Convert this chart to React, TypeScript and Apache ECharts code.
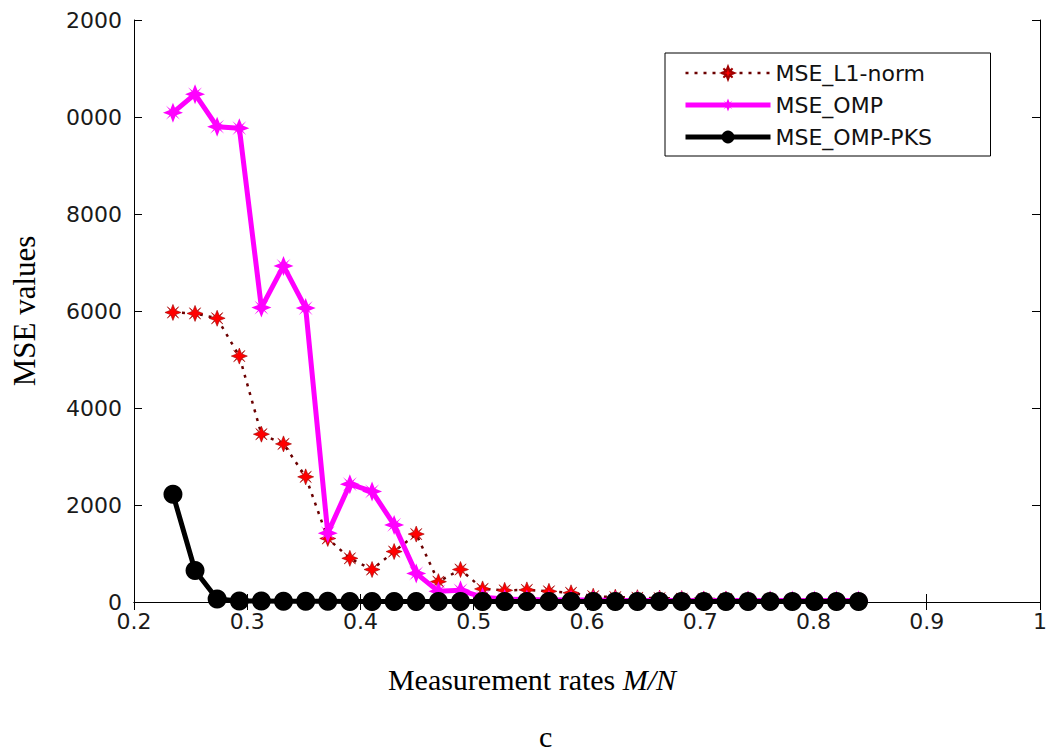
import React, { useEffect, useRef } from "react";
import * as echarts from "echarts";

// Measurement rates M/N (M = 60..215, N = 256)
const rates = [
  0.2344, 0.2539, 0.2734, 0.293, 0.3125, 0.332, 0.3516, 0.3711, 0.3906, 0.4102,
  0.4297, 0.4492, 0.4688, 0.4883, 0.5078, 0.5273, 0.5469, 0.5664, 0.5859, 0.6055,
  0.625, 0.6445, 0.6641, 0.6836, 0.7031, 0.7227, 0.7422, 0.7617, 0.7813, 0.8008,
  0.8203, 0.8398,
];
const mseL1 = [
  5970, 5950, 5850, 5070, 3460, 3260, 2580, 1310, 900, 670,
  1040, 1400, 420, 670, 270, 240, 250, 220, 190, 120,
  100, 90, 80, 70, 60, 60, 50, 50, 40, 40, 40, 30,
];
const mseOMP = [
  10090, 10470, 9800, 9770, 6070, 6930, 6060, 1420, 2430, 2280,
  1590, 590, 220, 240, 100, 60, 50, 40, 40, 40,
  30, 30, 30, 30, 30, 30, 30, 30, 30, 30, 30, 30,
];
const msePKS = [
  2220, 650, 60, 20, 20, 15, 15, 15, 10, 10,
  10, 10, 10, 10, 10, 10, 10, 10, 10, 10,
  10, 10, 10, 10, 10, 10, 10, 10, 10, 10, 10, 10,
];
const seriesNames = ["MSE_L1-norm", "MSE_OMP", "MSE_OMP-PKS"];
const xTickLabels = ["0.2", "0.3", "0.4", "0.5", "0.6", "0.7", "0.8", "0.9", "1"];
const yTickLabels = ["0", "2000", "4000", "6000", "8000", "0000", "2000"];

// chunky asterisk-like blob (MATLAB '*' marker drawn thick)
const starPath =
  "path://M20 10 L13.4 12.6 L17.07 17.07 L12.6 13.4 L10 20 L7.4 13.4 L2.93 17.07 L6.6 12.6 L0 10 L6.6 7.4 L2.93 2.93 L7.4 6.6 L10 0 L12.6 6.6 L17.07 2.93 L13.4 7.4 Z";

export default function App() {
  const ref = useRef<HTMLDivElement>(null);
  useEffect(() => {
    if (!ref.current) return;
    const chart = echarts.init(ref.current, null, { renderer: "svg" });
    const tickFont = {
      fontFamily: "DejaVu Sans",
      fontSize: 22,
      color: "#1a1a1a",
    };
    const pair = (vals: number[]) => rates.map((x, i) => [x, vals[i]]);
    const boxAxisX = {
      type: "value",
      min: 0.2,
      max: 1,
      interval: 0.1,
      position: "top",
      axisLine: { show: true, lineStyle: { color: "#000", width: 1 } },
      axisTick: { show: true, inside: true, length: 8, lineStyle: { color: "#000" } },
      splitLine: { show: false },
      axisLabel: { show: false },
    };
    const boxAxisY = {
      type: "value",
      min: 0,
      max: 12000,
      interval: 2000,
      position: "right",
      axisLine: { show: true, lineStyle: { color: "#000", width: 1 } },
      axisTick: { show: true, inside: true, length: 8, lineStyle: { color: "#000" } },
      splitLine: { show: false },
      axisLabel: { show: false },
    };
    chart.setOption({
      animation: false,
      backgroundColor: "#ffffff",
      grid: { left: 134, right: 14, top: 20, bottom: 154, containLabel: false },
      legend: {
        orient: "vertical",
        left: 665,
        top: 53,
        padding: [8, 25, 7, 18],
        itemWidth: 85,
        itemHeight: 16,
        itemGap: 8,
        itemTextGap: 8,
        borderColor: "#000",
        borderWidth: 1,
        backgroundColor: "#fff",
        textStyle: {
          fontFamily: "DejaVu Sans",
          fontSize: 22,
          color: "#111",
          lineHeight: 24,
          width: 190,
        },
        data: [
          { name: seriesNames[0], lineStyle: { width: 2.5 } },
          { name: seriesNames[1], lineStyle: { width: 5 } },
          { name: seriesNames[2], lineStyle: { width: 5 } },
        ],
      },
      xAxis: [
        {
          type: "value",
          min: 0.2,
          max: 1,
          interval: 0.1,
          position: "bottom",
          axisLine: { show: true, lineStyle: { color: "#000", width: 1 } },
          axisTick: { show: true, inside: true, length: 8, lineStyle: { color: "#000" } },
          splitLine: { show: false },
          axisLabel: {
            ...tickFont,
            margin: 8,
            formatter: (_v: number, i: number) => xTickLabels[i] ?? "",
          },
          name: "{a|Measurement rates }{b|M/N}",
          nameLocation: "middle",
          nameGap: 62,
          nameTextStyle: {
            padding: [0, 110, 0, 0],
            rich: {
              a: { fontFamily: "Liberation Serif", fontSize: 30, color: "#000" },
              b: {
                fontFamily: "Liberation Serif",
                fontSize: 30,
                fontStyle: "italic",
                color: "#000",
              },
            },
          },
        },
        boxAxisX,
      ],
      yAxis: [
        {
          type: "value",
          min: 0,
          max: 12000,
          interval: 2000,
          position: "left",
          axisLine: { show: true, lineStyle: { color: "#000", width: 1 } },
          axisTick: { show: true, inside: true, length: 8, lineStyle: { color: "#000" } },
          splitLine: { show: false },
          axisLabel: {
            ...tickFont,
            margin: 12,
            formatter: (_v: number, i: number) => yTickLabels[i] ?? "",
          },
          name: "MSE values",
          nameLocation: "middle",
          nameGap: 94,
          nameTextStyle: { fontFamily: "Liberation Serif", fontSize: 31, color: "#000" },
        },
        boxAxisY,
      ],
      series: [
        {
          name: seriesNames[0],
          type: "line",
          data: pair(mseL1),
          symbol: starPath,
          symbolSize: 16,
          itemStyle: { color: "#ff0000", borderColor: "#a00000", borderWidth: 0.6 },
          lineStyle: { color: "#6b0000", width: 2.5, type: [3, 6] },
          z: 2,
        },
        {
          name: seriesNames[1],
          type: "line",
          data: pair(mseOMP),
          symbol: starPath,
          symbolSize: 20,
          itemStyle: { color: "#ff00ff" },
          lineStyle: { color: "#ff00ff", width: 5 },
          z: 3,
        },
        {
          name: seriesNames[2],
          type: "line",
          data: pair(msePKS),
          symbol: "circle",
          symbolSize: 19,
          itemStyle: { color: "#000000" },
          lineStyle: { color: "#000000", width: 5 },
          z: 4,
        },
      ],
      graphic: [
        {
          type: "text",
          left: 539,
          top: 721,
          style: {
            text: "c",
            fontFamily: "Liberation Serif",
            fontSize: 30,
            fill: "#000",
          },
        },
      ],
    });
    return () => chart.dispose();
  }, []);
  return (
    <div
      ref={ref}
      style={{ position: "fixed", left: 0, top: 0, width: 1054, height: 756 }}
    />
  );
}
